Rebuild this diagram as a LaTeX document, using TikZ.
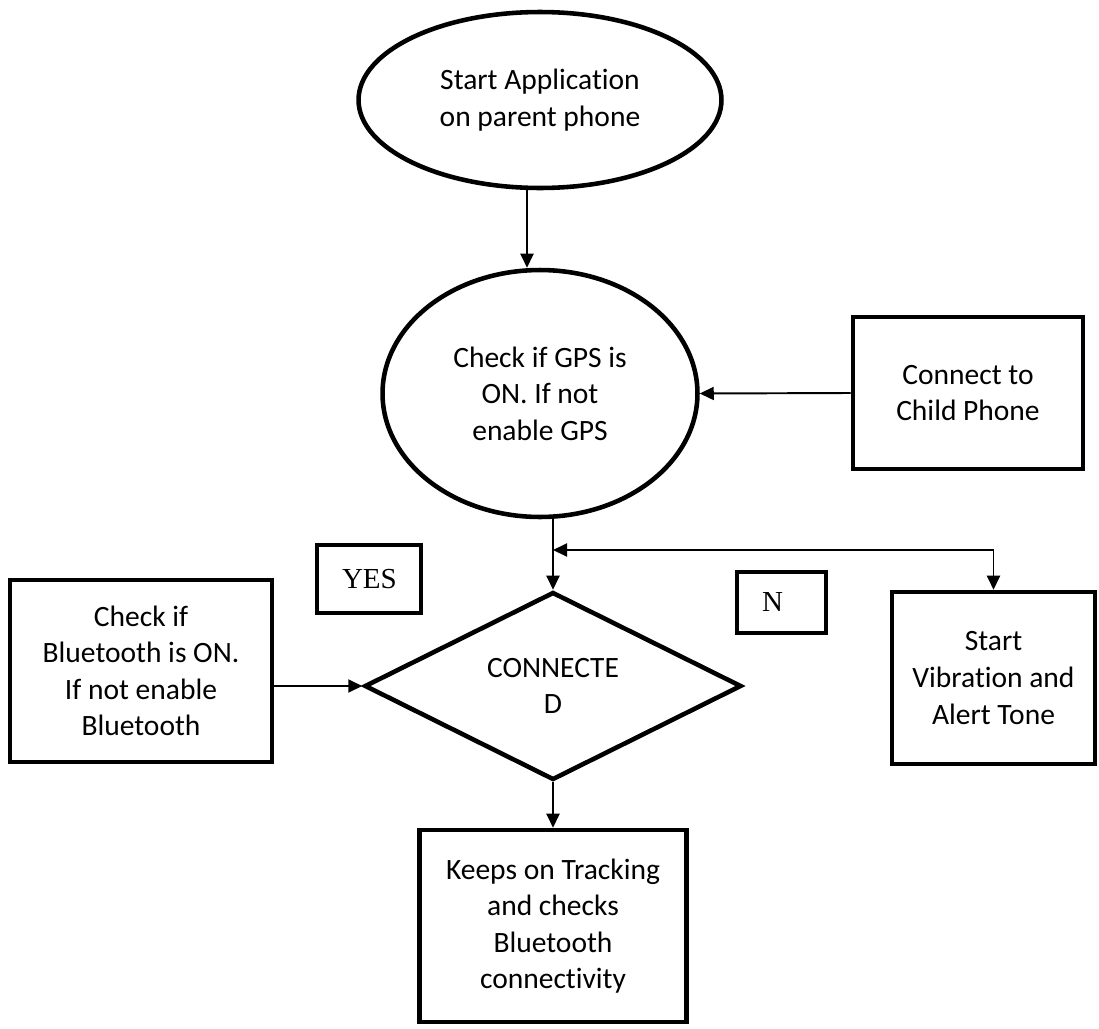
\documentclass[tikz,border=0pt]{standalone}
\usepackage{fontspec}
\setmainfont{Carlito}[Ligatures=NoCommon]
\newfontfamily\tnr{Liberation Serif}
\usetikzlibrary{arrows.meta, shapes.geometric}

\begin{document}
\begin{tikzpicture}[
  x=0.02cm, y=-0.02cm,
  font=\fontsize{16.8}{20.8}\selectfont,
  oval/.style={ellipse, draw, line width=2.6pt, align=center, inner sep=0pt},
  box/.style={rectangle, draw, line width=2.6pt, align=center, inner sep=0pt},
  dec/.style={diamond, draw, line width=2.6pt, align=center, inner sep=0pt},
  lbl/.style={rectangle, draw, line width=2.6pt, align=left, inner xsep=0.5cm,
              inner ysep=0pt, font=\tnr\fontsize{16.5}{19}\selectfont},
  e/.style={-{Triangle[length=0.28cm, width=0.26cm]}, line width=1.1pt}
]
\useasboundingbox (0,0) rectangle (1099,1028);

% ================================================= upper part
\node[oval, minimum width=7.26cm, minimum height=3.52cm] (start) at (540,100)
  {Start Application\\on parent phone};
\node[oval, minimum width=6.3cm, minimum height=4.94cm] (gps) at (540,393.5)
  {Check if GPS is\\ON. If not\\enable GPS};
\node[box, minimum width=4.6cm, minimum height=3.04cm] (conn) at (968,393)
  {Connect to\\Child Phone};

% ================================================= decision row
\node[dec, minimum width=7.54cm, minimum height=3.76cm] (dia) at (553,686)
  {CONNECTE\\D};
\node[box, minimum width=5.24cm, minimum height=3.64cm] (bt) at (141,671)
  {Check if\\Bluetooth is ON.\\If not enable\\Bluetooth};
\node[box, minimum width=4.06cm, minimum height=3.44cm] (vib) at (993.5,678)
  {Start\\Vibration and\\Alert Tone};
\node[lbl, minimum height=1.36cm, text width=1.08cm] (yes) at (369,579) {YES};
\node[lbl, minimum height=1.22cm, text width=0.78cm] (no) at (781.5,602.5) {N};

% ================================================= lower part
\node[box, minimum width=5.34cm, minimum height=3.84cm] (trk) at (553,926)
  {Keeps on Tracking\\and checks\\Bluetooth\\connectivity};

% connectors
\coordinate (tee) at (993.5,550);
\draw[e] ([xshift=-0.26cm]start.south) -- ([xshift=-0.26cm]gps.north);
\draw[e] (conn.west) -- (gps.east);
\draw[e] (dia.north |- gps.south) -- (dia.north);
\draw[e] (tee) -- (tee -| dia.north);
\draw[e] (tee) -- (vib.north);
\draw[e] (bt.east |- dia.west) -- (dia.west);
\draw[e] (dia.south) -- (trk.north);

\end{tikzpicture}
\end{document}
